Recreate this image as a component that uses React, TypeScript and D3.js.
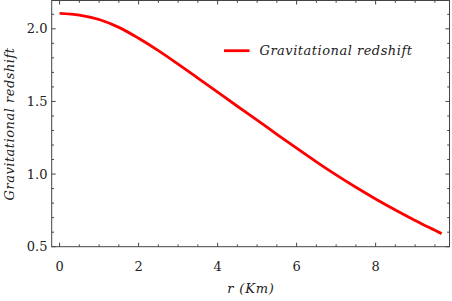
import * as d3 from "d3";

const width = 452;
const height = 301;
const margin = { top: 0.5, right: 2.5, bottom: 54.3, left: 51.7 };

// radius in Km and the redshift
const rValues = [0, 0.5, 1, 1.5, 2, 2.5, 3, 3.5, 4, 4.5, 5, 5.5, 6, 6.5, 7, 7.5, 8, 8.5, 9, 9.5, 9.67];
const redshift = [2.107, 2.095, 2.064, 2.01, 1.935, 1.85, 1.757, 1.661, 1.564, 1.467, 1.371, 1.274, 1.178, 1.084, 0.994, 0.909, 0.829, 0.753, 0.681, 0.613, 0.59];

const xTicks = [0, 2, 4, 6, 8];
const yTicks = [0.5, 1.0, 1.5, 2.0];
const xMinor = d3.range(0, 10, 0.5);
const yMinor = d3.range(0.5, 2.2, 0.1);

const seriesName = "Gravitational redshift";
const xLabel = "r (Km)";
const yLabel = "Gravitational redshift";

const font = "'DejaVu Serif', 'Liberation Serif', serif";

const App = () => {
  const x = d3.scaleLinear().domain([-0.2, 9.87]).range([margin.left, width - margin.right]);
  const y = d3.scaleLinear().domain([0.5, 2.195]).range([height - margin.bottom, margin.top]);

  const data = rValues.map((r, i) => ({ r, z: redshift[i] }));
  const line = d3.line<{ r: number; z: number }>()
    .x(d => x(d.r))
    .y(d => y(d.z))
    .curve(d3.curveMonotoneX);

  const left = margin.left;
  const right = width - margin.right;
  const top = margin.top;
  const bottom = height - margin.bottom;
  const axisColor = "#444";

  return (
    <svg width={width} height={height} style={{ position: "fixed", left: 0, top: 0, background: "#fff" }}>
      {/* curve */}
      <path d={line(data) ?? ""} fill="none" stroke="#ff0000" strokeWidth={2.8} />

      {/* ticks: inward on all four sides */}
      {xMinor.map(t => (
        <g key={"xm" + t}>
          <line x1={x(t)} x2={x(t)} y1={bottom} y2={bottom - (t % 2 === 0 ? 4 : 2.3)} stroke={axisColor} />
          <line x1={x(t)} x2={x(t)} y1={top} y2={top + (t % 2 === 0 ? 4 : 2.3)} stroke={axisColor} />
        </g>
      ))}
      {yMinor.map(t => {
        const major = Math.abs(t * 2 - Math.round(t * 2)) < 1e-6;
        return (
          <g key={"ym" + t.toFixed(1)}>
            <line x1={left} x2={left + (major ? 4 : 2.3)} y1={y(t)} y2={y(t)} stroke={axisColor} />
            <line x1={right} x2={right - (major ? 4 : 2.3)} y1={y(t)} y2={y(t)} stroke={axisColor} />
          </g>
        );
      })}

      {/* frame */}
      <rect x={left} y={top} width={right - left} height={bottom - top} fill="none" stroke={axisColor} strokeWidth={1} />

      {/* tick labels */}
      {xTicks.map(t => (
        <text key={"xt" + t} x={x(t)} y={271} textAnchor="middle" fontFamily={font} fontSize={13} fill="#222">
          {t}
        </text>
      ))}
      {yTicks.map(t => (
        <text key={"yt" + t} x={47.5} y={y(t) + 4.6} textAnchor="end" fontFamily={font} fontSize={13} fill="#222">
          {t.toFixed(1)}
        </text>
      ))}

      {/* axis labels */}
      <text x={251} y={293} textAnchor="middle" fontFamily={font} fontStyle="italic" fontSize={13} letterSpacing={0.8} fill="#222">
        {xLabel}
      </text>
      <text
        transform={`translate(14, 124) rotate(-90)`}
        textAnchor="middle"
        fontFamily={font}
        fontStyle="italic"
        fontSize={13}
        letterSpacing={0.5}
        fill="#222"
      >
        {yLabel}
      </text>

      {/* legend */}
      <line x1={224} x2={249.5} y1={50.7} y2={50.7} stroke="#ff0000" strokeWidth={2.8} />
      <text x={259.5} y={55} fontFamily={font} fontStyle="italic" fontSize={13} letterSpacing={0.5} fill="#222">
        {seriesName}
      </text>
    </svg>
  );
};

export default App;
